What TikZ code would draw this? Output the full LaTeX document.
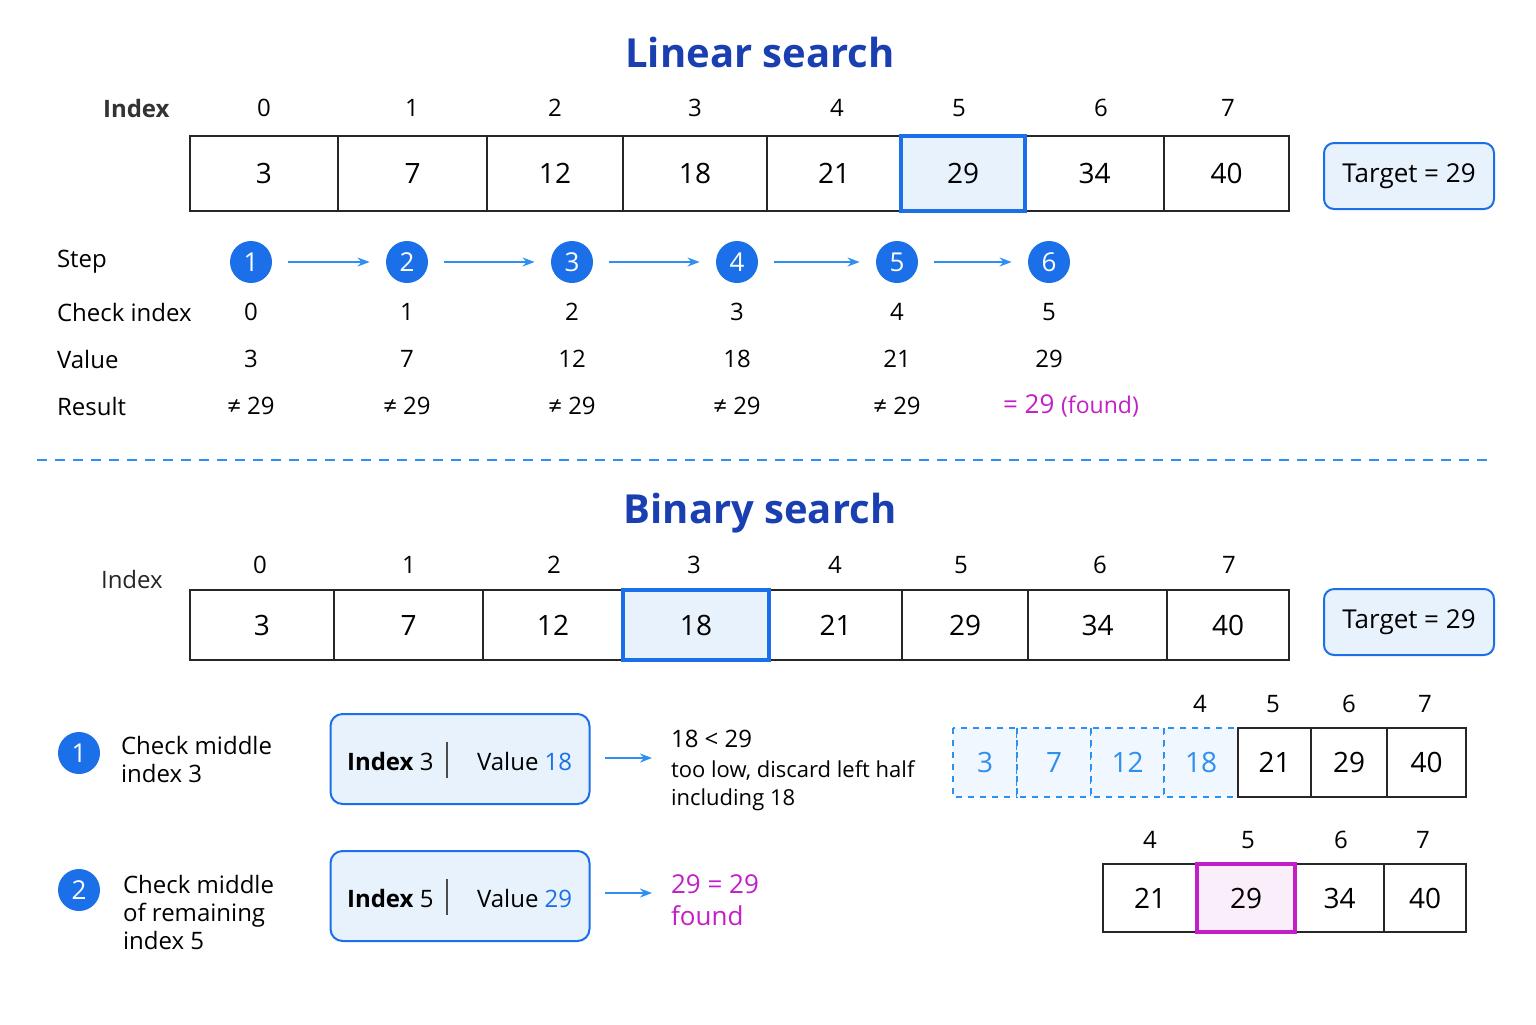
\documentclass[tikz,border=0pt]{standalone}
\usepackage{fontspec}
\setmainfont{Open Sans}
\usetikzlibrary{arrows.meta}
\definecolor{ttl}{HTML}{1A3FB0}
\definecolor{cb}{HTML}{1B6FE8}
\definecolor{ar}{HTML}{2D8FF0}
\definecolor{lf}{HTML}{E8F2FD}
\definecolor{mg}{HTML}{C21FC9}
\definecolor{pk}{HTML}{FBEEFB}
\tikzset{
 cellb/.style={draw=black!85,line width=1.1pt},
 hib/.style={draw=cb,line width=1.8pt,fill=lf},
 him/.style={draw=mg,line width=1.8pt,fill=pk},
 dsh/.style={draw=ar,dashed,line width=0.7pt,fill=lf!60},
 num/.style={font=\fontsize{14}{16}\selectfont},
 idx/.style={font=\fontsize{12}{14}\selectfont},
 lbl/.style={font=\fontsize{12}{14}\selectfont,anchor=west},
 title/.style={font=\bfseries\fontsize{20}{24}\selectfont,text=ttl},
 circ/.style={circle,fill=cb,text=white,minimum size=21pt,inner sep=0pt,font=\fontsize{13}{15}\selectfont},
 arr/.style={-{Stealth[length=6pt]},ar,line width=1pt},
 tgt/.style={draw=cb,line width=1pt,fill=lf,rounded corners=5pt,minimum width=85pt,minimum height=33pt,font=\fontsize{13}{15}\selectfont},
 ibox/.style={draw=cb,line width=1pt,fill=lf,rounded corners=6pt,minimum width=129.5pt,minimum height=45pt},
}
\newcommand{\cellat}[7]{\draw[#7] (#2,#4) rectangle (#3,#5); \node[num] (#1) at ({(#2+#3)/2},{(#4+#5)/2}) {#6};}
\begin{document}
\begin{tikzpicture}[x=0.5pt,y=-0.5pt]
\useasboundingbox (0,0) rectangle (1536,1024);
\fill[white] (0,0) rectangle (1536,1024);
\node[title] (t1) at (760,52) {Linear search};
\node[lbl,font=\fontsize{12}{14}\selectfont\bfseries,text=black!80] (li) at (96,108) {Index};
\foreach \x/\i in {264/0,412/1,555/2,695/3,837/4,959/5,1101/6,1228/7}{\node[idx] (lx\i) at (\x,108) {\i};}
\cellat{a0}{190}{338}{136}{211}{3}{cellb}
\cellat{a1}{338}{487}{136}{211}{7}{cellb}
\cellat{a2}{487}{623}{136}{211}{12}{cellb}
\cellat{a3}{623}{767}{136}{211}{18}{cellb}
\cellat{a4}{767}{901}{136}{211}{21}{cellb}
\cellat{a6}{1025}{1164}{136}{211}{34}{cellb}
\cellat{a7}{1164}{1289}{136}{211}{40}{cellb}
\cellat{a5}{901}{1025}{136}{211}{29}{hib}
\node[tgt] (tg1) at (1409,176) {Target = 29};
\node[lbl] (ls) at (50,262) {Step};
\node[lbl] (lc) at (50,312) {Check index};
\node[lbl] (lv) at (50,359) {Value};
\node[lbl] (lr) at (50,406) {Result};
\foreach \x/\s/\c/\v in {251/1/0/3,407/2/1/7,572/3/2/12,737/4/3/18,897/5/4/21,1049/6/5/29}{
 \node[circ] (s\s) at (\x,262) {\s};
 \node[idx] (c\s) at (\x,312) {\c};
 \node[idx] (v\s) at (\x,359) {\v};}
\foreach \x/\s in {251/1,407/2,572/3,737/4,897/5}{\node[idx] (r\s) at (\x,406) {≠ 29};}
\node[idx,text=mg,anchor=west,font=\fontsize{13}{15}\selectfont] (r6) at (996,406) {= 29 {\fontsize{11.5}{13}\selectfont(found)}};
\foreach \a/\b in {1/2,2/3,3/4,4/5,5/6}{\draw[arr] ([xshift=8pt]s\a.east) -- ([xshift=-8pt]s\b.west);}
\draw[ar,line width=0.8pt,dash pattern=on 5pt off 4pt] (37,460) -- (1490,460);
\node[title] (t2) at (760,513) {Binary search};
\node[lbl,text=black!85] (bi) at (94,579) {Index};
\foreach \x/\i in {260/0,409/1,554/2,694/3,835/4,961/5,1100/6,1229/7}{\node[idx] (bx\i) at (\x,565) {\i};}
\cellat{b0}{190}{334}{590}{660}{3}{cellb}
\cellat{b1}{334}{483}{590}{660}{7}{cellb}
\cellat{b2}{483}{623}{590}{660}{12}{cellb}
\cellat{b4}{769}{902}{590}{660}{21}{cellb}
\cellat{b5}{902}{1028}{590}{660}{29}{cellb}
\cellat{b6}{1028}{1167}{590}{660}{34}{cellb}
\cellat{b7}{1167}{1289}{590}{660}{40}{cellb}
\cellat{b3}{623}{769}{590}{660}{18}{hib}
\node[tgt] (tg2) at (1409,622) {Target = 29};
% step 1
\node[circ] (q1) at (79,753) {1};
\node[lbl,align=left] (q1t) at (114,759) {Check middle\\index 3};
\node[ibox] (bx1) at (460,759) {};
\node[idx,anchor=west] (bx1a) at (340,761) {\textbf{Index} 3};
\draw[black!70,line width=0.8pt] (447,742) -- (447,778);
\node[idx,anchor=west] (bx1b) at (470,761) {Value \textcolor{cb}{18}};
\coordinate (p1a) at (605,758); \coordinate (p1b) at (652,758);
\draw[arr] (p1a) -- (p1b);
\node[idx,anchor=west] (o1) at (664,739) {18 < 29};
\node[lbl,align=left,font=\fontsize{11}{14}\selectfont] (o1b) at (664,786) {too low, discard left half\\including 18};
\foreach \n/\a/\b/\v in {1/953/1017/3,2/1017/1091/7,3/1091/1164/12,4/1164/1238/18}{\cellat{d\n}{\a}{\b}{728}{797}{\textcolor{ar}{\v}}{dsh}}
\cellat{e5}{1238}{1311}{728}{797}{21}{cellb}
\cellat{e6}{1311}{1387}{728}{797}{29}{cellb}
\cellat{e7}{1387}{1466}{728}{797}{40}{cellb}
\foreach \x/\i in {1200/4,1273/5,1349/6,1425/7}{\node[idx] (ex\i) at (\x,704) {\i};}
% step 2
\node[circ] (q2) at (79,890) {2};
\node[lbl,align=left] (q2t) at (116,912) {Check middle\\of remaining\\index 5};
\node[ibox] (bx2) at (460,896) {};
\node[idx,anchor=west] (bx2a) at (340,898) {\textbf{Index} 5};
\draw[black!70,line width=0.8pt] (447,879) -- (447,915);
\node[idx,anchor=west] (bx2b) at (470,898) {Value \textcolor{cb}{29}};
\coordinate (p2a) at (605,893); \coordinate (p2b) at (652,893);
\draw[arr] (p2a) -- (p2b);
\node[anchor=west,text=mg,align=left,font=\fontsize{13}{16}\selectfont] (o2) at (664,900) {29 = 29\\found};
\cellat{f4}{1103}{1197}{864}{932}{21}{cellb}
\cellat{f6}{1295}{1384}{864}{932}{34}{cellb}
\cellat{f7}{1384}{1466}{864}{932}{40}{cellb}
\cellat{f5}{1197}{1295}{864}{932}{29}{him}
\foreach \x/\i in {1150/4,1248/5,1341/6,1423/7}{\node[idx] (fx\i) at (\x,840) {\i};}
\end{tikzpicture}
\end{document}
